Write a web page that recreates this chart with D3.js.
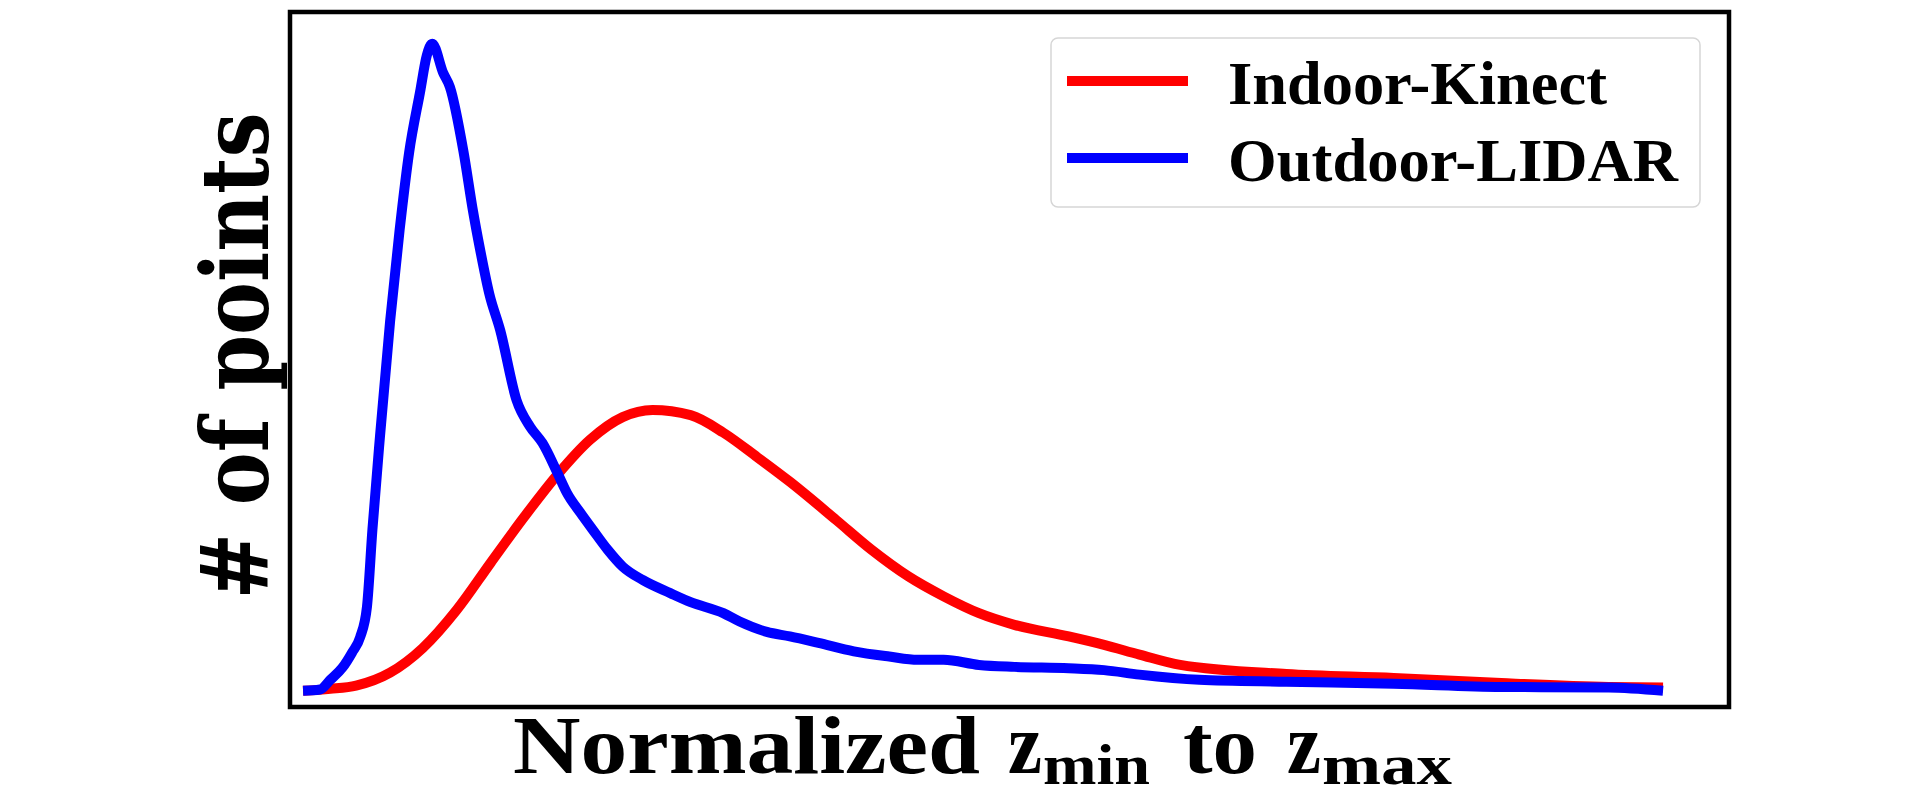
<!DOCTYPE html>
<html>
<head>
<meta charset="utf-8">
<script src="https://cdn.jsdelivr.net/npm/d3@7"></script>
<style>
  html, body { margin: 0; padding: 0; background: #fff; }
  svg { display: block; }
</style>
</head>
<body>
<div id="chart"></div>
<script>
// Normalized depth (0 = z_min, 1 = z_max) and relative point counts
const kinectX = [0, 0.020, 0.039, 0.064, 0.088, 0.113, 0.138, 0.162, 0.187, 0.211, 0.235, 0.257,
    0.285, 0.309, 0.334, 0.358, 0.392, 0.418, 0.445, 0.471, 0.497, 0.523, 0.563, 0.589, 0.615,
    0.645, 0.723, 0.802, 0.881, 0.960, 1.000];
const kinectY = [0, 0.003, 0.008, 0.028, 0.066, 0.125, 0.198, 0.267, 0.334, 0.388, 0.423, 0.434,
    0.426, 0.399, 0.361, 0.323, 0.264, 0.218, 0.177, 0.146, 0.120, 0.102, 0.084, 0.071, 0.056,
    0.040, 0.026, 0.020, 0.012, 0.006, 0.005];

const lidarX = [0, 0.0125, 0.020, 0.029, 0.036, 0.042, 0.047, 0.051, 0.0566, 0.064, 0.071,
    0.078, 0.086, 0.091, 0.095, 0.103, 0.108, 0.118, 0.125, 0.130, 0.137, 0.145, 0.157, 0.167,
    0.176, 0.187, 0.194, 0.204, 0.213, 0.224, 0.235, 0.250, 0.270, 0.285, 0.309, 0.321, 0.341,
    0.358, 0.379, 0.405, 0.431, 0.452, 0.471, 0.497, 0.523, 0.563, 0.589, 0.615, 0.659, 0.723,
    0.802, 0.881, 0.960, 1.000];
const lidarY = [0, 0.002, 0.017, 0.036, 0.059, 0.083, 0.130, 0.249, 0.394, 0.571, 0.712,
    0.832, 0.925, 0.982, 1.000, 0.955, 0.933, 0.833, 0.741, 0.684, 0.613, 0.557, 0.449, 0.408,
    0.383, 0.337, 0.306, 0.275, 0.249, 0.218, 0.192, 0.171, 0.151, 0.137, 0.120, 0.107, 0.091,
    0.084, 0.074, 0.061, 0.053, 0.048, 0.048, 0.040, 0.037, 0.035, 0.032, 0.025, 0.017, 0.014,
    0.011, 0.006, 0.005, 0.000];

const seriesNames = ["Indoor-Kinect", "Outdoor-LIDAR"];
const seriesColors = ["#ff0000", "#0000ff"];

const width = 1920, height = 796;
const frame = { left: 290, right: 1729, top: 12, bottom: 707 };
const serifBold = "'Liberation Serif', 'DejaVu Serif', serif";

const svg = d3.select("#chart").append("svg")
    .attr("width", width)
    .attr("height", height);

const x = d3.scaleLinear()
    .domain([-0.0096, 1.0485])
    .range([frame.left, frame.right]);

const y = d3.scaleLinear()
    .domain([-0.025, 1.049])
    .range([frame.bottom, frame.top]);

const line = d3.line()
    .curve(d3.curveMonotoneX)
    .x(d => x(d[0]))
    .y(d => y(d[1]));

const series = [
    d3.zip(kinectX, kinectY),
    d3.zip(lidarX, lidarY)
];

// curves (red first, blue on top)
svg.selectAll(".curve")
    .data(series)
    .enter()
    .append("path")
    .attr("class", "curve")
    .attr("d", line)
    .attr("fill", "none")
    .attr("stroke", (d, i) => seriesColors[i])
    .attr("stroke-width", 10)
    .attr("stroke-linejoin", "round")
    .attr("stroke-linecap", "butt");

// axes frame, no ticks
svg.append("rect")
    .attr("x", frame.left)
    .attr("y", frame.top)
    .attr("width", frame.right - frame.left)
    .attr("height", frame.bottom - frame.top)
    .attr("fill", "none")
    .attr("stroke", "#000")
    .attr("stroke-width", 4.5);

// legend
const legend = svg.append("g");

legend.append("rect")
    .attr("x", 1051)
    .attr("y", 38)
    .attr("width", 649)
    .attr("height", 169)
    .attr("rx", 7)
    .attr("fill", "#fff")
    .attr("stroke", "#d6d6d6")
    .attr("stroke-width", 1.5);

const legendLen = [379, 450];

seriesNames.forEach((name, i) => {
    const cy = 81 + i * 77;
    legend.append("line")
        .attr("x1", 1067)
        .attr("x2", 1188)
        .attr("y1", cy)
        .attr("y2", cy)
        .attr("stroke", seriesColors[i])
        .attr("stroke-width", 10);
    legend.append("text")
        .attr("x", 1228)
        .attr("y", cy + 23)
        .attr("font-family", serifBold)
        .attr("font-weight", "bold")
        .attr("font-size", 62)
        .attr("textLength", legendLen[i])
        .attr("lengthAdjust", "spacingAndGlyphs")
        .text(name);
});

// x label: Normalized z_min to z_max
const xLabelParts = [
    { t: "Normalized", x: 513, y: 773, size: 82, len: 467 },
    { t: "z", x: 1008, y: 773, size: 86, len: 34 },
    { t: "min", x: 1043, y: 784, size: 56, len: 107 },
    { t: "to", x: 1183, y: 773, size: 82, len: 74 },
    { t: "z", x: 1287, y: 773, size: 86, len: 34 },
    { t: "max", x: 1322, y: 784, size: 56, len: 130 }
];

svg.selectAll(".xlabel")
    .data(xLabelParts)
    .enter()
    .append("text")
    .attr("class", "xlabel")
    .attr("x", d => d.x)
    .attr("y", d => d.y)
    .attr("font-family", serifBold)
    .attr("font-weight", "bold")
    .attr("font-size", d => d.size)
    .attr("textLength", d => d.len)
    .attr("lengthAdjust", "spacingAndGlyphs")
    .text(d => d.t);

// y label
svg.append("text")
    .attr("transform", "translate(268, 356) rotate(-90)")
    .attr("text-anchor", "middle")
    .attr("font-family", "'DejaVu Serif', serif")
    .attr("font-weight", "bold")
    .attr("font-size", 94)
    .attr("textLength", 487)
    .attr("lengthAdjust", "spacingAndGlyphs")
    .text("# of points");
</script>
</body>
</html>
